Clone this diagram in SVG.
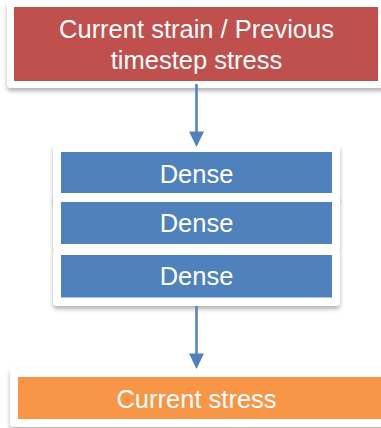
<svg xmlns="http://www.w3.org/2000/svg" width="381" height="428" viewBox="0 0 381 428">
  <defs>
    <filter id="shadow" x="-10%" y="-10%" width="120%" height="130%">
      <feDropShadow dx="0" dy="3" stdDeviation="2" flood-color="#000" flood-opacity="0.3"/>
    </filter>
  </defs>
  <style>
    .card { fill: #ffffff; filter: url(#shadow); }
    .label { font-family: "Liberation Sans", Arial, sans-serif; font-size: 25.5px; fill: #ffffff; text-anchor: middle; }
    .red { fill: #C0504D; }
    .blue { fill: #4F81BD; }
    .orange { fill: #F79646; }
    .conn { stroke: #4F81BD; stroke-width: 2.5; fill: none; }
    .head { fill: #4F81BD; }
  </style>

  <rect x="0" y="0" width="381" height="428" fill="#ffffff"/>

  <!-- input node -->
  <g id="input">
    <rect class="card" x="7" y="2" width="390" height="86" rx="4"/>
    <rect class="red" x="14" y="7" width="364" height="74"/>
    <text class="label" x="196.5" y="37.5">Current strain / Previous</text>
    <text class="label" x="196.5" y="69">timestep stress</text>
  </g>

  <!-- stack of dense layers -->
  <g id="dense-stack">
    <rect class="card" x="53" y="145" width="287" height="56" rx="4"/>
    <rect class="card" x="53" y="196" width="287" height="54" rx="4"/>
    <rect class="card" x="53" y="248" width="287" height="58" rx="4"/>
    <g id="dense1">
      <rect class="blue" x="61" y="152" width="271" height="41"/>
      <text class="label" x="196.5" y="183">Dense</text>
    </g>
    <g id="dense2">
      <rect class="blue" x="61" y="202" width="271" height="42"/>
      <text class="label" x="196.5" y="232">Dense</text>
    </g>
    <g id="dense3">
      <rect class="blue" x="61" y="255" width="271" height="42.5"/>
      <text class="label" x="196.5" y="285">Dense</text>
    </g>
  </g>

  <!-- output node -->
  <g id="output">
    <rect class="card" x="10" y="368" width="390" height="59" rx="4"/>
    <rect class="orange" x="18" y="377" width="370" height="42"/>
    <text class="label" x="196.5" y="407.5">Current stress</text>
  </g>

  <!-- connectors -->
  <g id="connectors">
    <line class="conn" x1="196.5" y1="84" x2="196.5" y2="133"/>
    <path class="head" d="M189,131.5 L204,131.5 L196.5,147 Z"/>
    <line class="conn" x1="196.5" y1="306" x2="196.5" y2="355"/>
    <path class="head" d="M189,353.5 L204,353.5 L196.5,369 Z"/>
  </g>
</svg>
